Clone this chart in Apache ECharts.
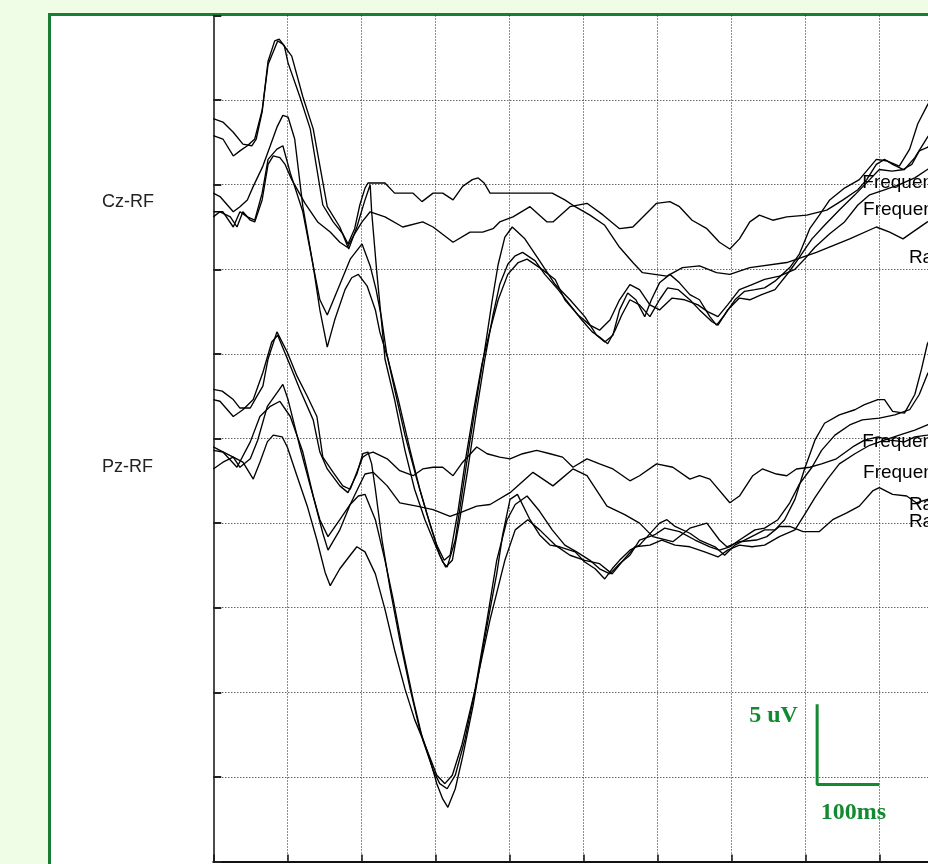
<!DOCTYPE html>
<html>
<head>
<meta charset="utf-8">
<script src="https://cdn.jsdelivr.net/npm/echarts@6/dist/echarts.min.js"></script>
<style>
  html, body { margin: 0; padding: 0; width: 928px; height: 864px; overflow: hidden; background: #effde7; }
  #panel { position: absolute; left: 48px; top: 13px; width: 1000px; height: 900px; border: 3px solid #1a7d36; background: #fff; }
  #main { position: absolute; left: 0; top: 0; width: 1000px; height: 864px; }
</style>
</head>
<body>
<div id="panel"></div>
<div id="main"></div>
<script>
// time in ms, amplitude in uV (both channels drawn on one shared axis)
const czTrace1 = [[-100,18.9],[-87,18.7],[-73,18.1],[-60,17.4],[-48,17.3],[-42,17.7],[-34,19.3],[-26,22.3],[-17,23.5],[-11,23.6],[-4,23.2],[1,22.2],[17,20.2],[31,18.3],[48,13.8],[62,12.8],[75,12.1],[82,11.5],[91,12.4],[98,13.8],[105,14.8],[109,15.1],[132,15.1],[145,14.5],[170,14.5],[182,14.0],[197,14.5],[210,14.5],[224,14.1],[237,14.9],[250,15.3],[258,15.4],[266,15.1],[274,14.5],[358,14.5],[375,14.1],[389,13.7],[409,13.2],[429,12.6],[449,11.3],[467,10.4],[480,9.8],[513,9.6],[534,10.1],[557,10.2],[580,9.8],[598,9.7],[625,10.1],[675,10.4],[715,11.0],[760,11.8],[796,12.5],[814,12.2],[832,11.8],[845,12.2],[865,12.8],[895,13.2]];
const czTrace2 = [[-100,17.9],[-87,17.7],[-73,16.7],[-64,17.0],[-54,17.3],[-44,17.7],[-34,19.4],[-26,22.1],[-13,23.5],[-6,23.3],[6,22.6],[21,20.2],[35,18.3],[54,13.7],[71,12.5],[83,11.2],[94,12.5],[105,14.1],[112,15.0],[114,13.4],[121,9.8],[128,6.6],[132,4.7],[145,2.3],[159,-0.7],[172,-3.0],[186,-4.8],[200,-6.3],[210,-7.3],[216,-7.6],[227,-6.0],[237,-3.0],[247,-0.1],[258,2.9],[267,5.3],[277,8.2],[285,10.3],[294,11.9],[304,12.5],[321,11.8],[341,10.5],[362,9.1],[382,8.2],[402,7.2],[418,6.1],[429,5.7],[440,6.1],[449,7.6],[460,8.6],[471,8.2],[483,7.2],[492,8.2],[503,9.2],[517,9.7],[530,9.2],[544,8.5],[557,8.2],[571,7.2],[580,6.7],[591,7.3],[605,8.2],[618,8.7],[632,8.8],[645,8.9],[659,9.3],[679,10.1],[692,10.9],[706,12.4],[719,13.2],[733,14.1],[753,14.8],[773,15.3],[796,16.5],[811,16.4],[827,16.1],[841,17.1],[852,18.6],[865,19.7],[882,20.9]];
const czTrace3 = [[-100,14.5],[-91,14.3],[-73,13.4],[-64,13.7],[-54,14.1],[-46,14.9],[-33,16.1],[-23,17.3],[-14,18.4],[-6,19.1],[1,19.0],[10,17.7],[21,13.7],[35,10.2],[44,7.6],[54,5.4],[64,7.0],[78,8.8],[87,9.5],[96,9.7],[108,9.0],[119,7.6],[125,6.3],[136,4.7],[150,2.3],[166,-0.7],[179,-3.0],[193,-5.1],[206,-6.9],[214,-7.6],[223,-7.2],[233,-4.8],[244,-1.8],[256,1.7],[267,4.7],[278,7.3],[287,9.1],[298,10.3],[308,10.8],[318,11.0],[335,10.5],[348,9.7],[366,8.8],[382,7.9],[398,7.0],[412,6.3],[422,6.0],[433,5.6],[443,6.4],[452,7.3],[463,8.2],[476,7.9],[490,7.2],[503,8.2],[514,8.9],[528,8.8],[544,8.2],[557,7.6],[574,6.9],[582,6.7],[595,7.6],[611,8.3],[625,8.2],[641,8.5],[659,8.8],[679,9.9],[692,10.7],[709,11.8],[726,12.6],[746,13.5],[767,14.4],[787,15.3],[800,15.9],[817,15.8],[834,15.9],[848,16.6],[865,17.8],[882,18.9]];
const czTrace4 = [[-100,13.4],[-87,13.4],[-73,12.5],[-64,13.4],[-54,13.1],[-44,12.9],[-34,14.5],[-26,16.5],[-14,17.1],[-6,17.3],[4,15.7],[21,13.4],[35,10.2],[44,8.2],[54,7.3],[71,9.1],[85,10.6],[101,11.5],[112,10.2],[120,8.8],[127,7.2],[134,5.1],[145,2.9],[159,0.2],[175,-2.4],[189,-4.5],[202,-6.3],[212,-7.2],[220,-6.9],[231,-4.2],[241,-1.2],[252,1.7],[263,4.4],[274,6.4],[285,8.2],[298,9.7],[312,10.4],[324,10.6],[341,10.1],[362,9.4],[375,8.2],[393,7.3],[409,6.7],[422,6.4],[436,7.0],[449,8.2],[463,9.1],[476,8.8],[490,7.9],[503,7.6],[520,8.3],[537,8.2],[555,7.9],[568,7.5],[582,7.2],[595,7.9],[611,8.8],[628,9.1],[645,9.4],[665,9.6],[686,10.0],[699,10.6],[713,11.3],[733,12.1],[753,12.8],[771,13.8],[787,14.4],[807,14.7],[827,15.0],[848,15.4],[865,15.9],[882,16.4]];
const czTrace5 = [[-100,13.1],[-91,13.4],[-77,13.1],[-68,12.5],[-60,13.4],[-50,12.9],[-44,12.8],[-34,14.1],[-26,16.2],[-19,16.7],[-10,16.6],[-3,16.2],[6,15.3],[24,13.9],[41,12.8],[58,12.2],[71,11.6],[81,11.3],[91,12.1],[101,12.8],[112,13.4],[132,13.1],[156,12.5],[183,12.8],[197,12.5],[224,11.6],[247,12.2],[264,12.2],[278,12.4],[287,12.8],[305,13.1],[328,13.7],[351,12.8],[359,12.8],[382,13.7],[405,13.9],[427,13.2],[449,12.4],[467,12.5],[490,13.5],[499,13.9],[517,14.0],[530,13.7],[547,12.9],[567,12.4],[584,11.6],[598,11.2],[611,11.8],[625,12.8],[638,13.2],[656,12.9],[675,13.1],[702,13.2],[729,13.5],[751,14.1],[771,14.7],[783,15.3],[796,16.2],[807,16.5],[818,16.2],[832,15.9],[844,16.2],[854,17.0],[865,17.2],[882,18.0]];

const pzTrace1 = [[-100,2.9],[-88,2.8],[-73,2.3],[-64,1.8],[-50,1.8],[-41,2.5],[-33,3.1],[-26,4.7],[-14,6.3],[0,5.1],[13,3.7],[27,2.5],[40,1.3],[48,-1.1],[62,-2.0],[75,-2.8],[85,-3.0],[94,-2.0],[102,-1.1],[109,-0.9],[116,-0.8],[135,-1.2],[152,-1.9],[170,-2.2],[183,-1.8],[197,-1.7],[210,-1.7],[224,-2.2],[237,-1.4],[256,-0.5],[270,-0.9],[287,-1.1],[301,-1.2],[318,-0.9],[337,-0.7],[355,-0.9],[372,-1.1],[386,-1.7],[405,-1.2],[422,-1.5],[440,-1.8],[463,-2.5],[476,-2.2],[499,-1.5],[521,-1.7],[544,-2.4],[557,-2.2],[571,-2.4],[598,-3.8],[611,-3.4],[629,-2.2],[642,-1.8],[661,-2.1],[675,-2.2],[688,-1.8],[706,-1.7],[722,-1.5],[742,-1.2],[764,-0.5],[780,-0.1],[798,0.1],[814,-0.1],[834,-0.2],[848,0.1],[865,0.2],[882,0.4]];
const pzTrace2 = [[-100,2.3],[-91,2.2],[-73,1.3],[-60,1.7],[-46,2.3],[-33,3.9],[-21,5.7],[-13,6.1],[4,4.3],[17,2.9],[35,1.1],[44,-0.8],[54,-1.8],[71,-2.8],[82,-3.2],[94,-2.1],[102,-0.9],[109,-0.8],[114,-1.5],[119,-3.0],[128,-6.0],[139,-8.9],[152,-11.9],[166,-14.8],[179,-17.2],[193,-19.0],[202,-20.4],[210,-21.3],[217,-21.8],[227,-20.7],[237,-18.8],[251,-15.8],[264,-12.5],[274,-10.1],[283,-8.0],[291,-5.7],[301,-3.6],[311,-3.3],[328,-4.8],[341,-5.7],[355,-6.3],[368,-6.4],[389,-6.7],[402,-7.3],[416,-7.7],[429,-8.3],[439,-7.7],[449,-7.2],[463,-6.6],[476,-6.3],[503,-5.0],[513,-4.8],[524,-5.2],[544,-5.6],[557,-6.0],[578,-6.4],[591,-6.9],[605,-6.3],[618,-6.0],[632,-5.7],[645,-5.4],[659,-5.4],[672,-4.8],[686,-3.6],[699,-1.8],[713,-0.1],[726,0.9],[746,1.4],[767,1.7],[780,2.0],[798,2.3],[807,2.3],[818,1.6],[834,1.5],[848,2.6],[857,4.1],[865,5.6],[882,7.0]];
const pzTrace3 = [[-100,-0.5],[-91,-0.7],[-73,-1.1],[-64,-1.7],[-50,-1.2],[-40,-0.1],[-27,1.9],[-14,2.7],[-6,3.2],[1,2.3],[17,-0.5],[31,-2.8],[44,-4.8],[55,-5.8],[71,-4.8],[85,-3.9],[96,-3.4],[105,-3.3],[119,-4.8],[132,-7.2],[143,-9.5],[156,-12.5],[170,-15.4],[183,-17.8],[197,-19.6],[206,-20.4],[216,-20.7],[227,-19.9],[240,-17.8],[254,-14.8],[270,-10.7],[283,-7.2],[297,-4.8],[308,-3.9],[324,-3.4],[341,-4.3],[358,-5.4],[375,-6.3],[391,-6.7],[409,-7.2],[422,-7.7],[436,-8.0],[449,-7.4],[463,-6.9],[476,-6.0],[496,-5.7],[510,-5.3],[530,-5.5],[551,-6.0],[571,-6.4],[584,-6.6],[598,-6.4],[611,-6.0],[632,-5.4],[645,-5.3],[663,-4.8],[679,-3.8],[692,-2.7],[709,-1.7],[722,-0.7],[740,0.2],[760,0.8],[777,1.1],[800,1.2],[821,1.4],[841,1.7],[854,2.6],[865,3.8],[882,5.0]];
const pzTrace4 = [[-100,-0.7],[-87,-0.8],[-68,-1.7],[-50,-0.2],[-37,1.3],[-23,1.9],[-10,2.2],[4,1.3],[21,-0.8],[35,-3.4],[48,-5.6],[55,-6.6],[71,-5.4],[85,-3.9],[96,-2.9],[105,-2.1],[116,-2.0],[135,-2.8],[152,-3.8],[175,-4.0],[197,-4.2],[220,-4.6],[233,-4.4],[256,-4.0],[274,-3.9],[301,-3.2],[332,-2.0],[359,-2.8],[386,-1.8],[405,-2.2],[432,-4.0],[456,-4.5],[476,-5.0],[494,-5.8],[521,-6.1],[544,-5.3],[567,-5.0],[584,-6.0],[594,-6.4],[611,-6.1],[634,-6.0],[648,-5.8],[665,-5.2],[679,-5.2],[697,-5.5],[719,-5.5],[737,-4.8],[756,-4.4],[773,-4.0],[791,-3.1],[800,-2.9],[818,-3.3],[837,-3.4],[850,-3.8],[865,-3.6],[882,-3.5]];
const pzTrace5 = [[-100,-1.8],[-87,-1.4],[-73,-1.1],[-60,-1.4],[-46,-2.4],[-37,-1.4],[-27,-0.2],[-19,0.2],[-7,0.1],[0,-0.5],[13,-2.2],[27,-4.0],[40,-6.0],[51,-7.9],[58,-8.7],[71,-7.7],[85,-6.9],[94,-6.4],[105,-6.7],[119,-8.0],[132,-10.1],[145,-12.5],[159,-14.8],[172,-16.6],[186,-18.1],[202,-19.9],[213,-20.4],[223,-19.9],[236,-18.1],[254,-14.8],[274,-10.7],[294,-7.2],[308,-5.4],[325,-4.8],[341,-5.4],[362,-6.3],[382,-6.9],[402,-7.2],[422,-7.4],[439,-8.0],[452,-7.3],[470,-6.4],[490,-6.3],[506,-6.0],[524,-6.3],[544,-6.4],[564,-6.7],[582,-7.0],[595,-6.6],[611,-6.3],[628,-6.4],[645,-6.3],[665,-5.8],[686,-5.4],[699,-4.5],[713,-3.5],[730,-2.4],[746,-1.5],[767,-0.9],[787,-0.4],[807,-0.1],[827,0.2],[848,0.5],[865,0.8],[882,1.1]];

// condition labels written next to the traces
const labelNames = ['Frequent', 'Frequent', 'Rare', 'Frequent', 'Frequent', 'Rare', 'Rare'];
const labelMs = [777, 778, 840, 777, 778, 840, 840];
const labelUv = [15.1, 13.5, 10.7, -0.2, -2.0, -3.9, -4.9];

// channel names
const channelNames = ['Cz-RF', 'Pz-RF'];

// calibration bar: 5 uV / 100 ms
const scaleBar = [[716, -15.7], [716, -20.45], [800, -20.45]];
const scaleTexts = ['5 uV', '100ms'];

const traces = [czTrace1, czTrace2, czTrace3, czTrace4, czTrace5,
  pzTrace1, pzTrace2, pzTrace3, pzTrace4, pzTrace5];

var myChart = echarts.init(document.getElementById('main'));

const dotted = { color: '#1e1e1e', width: 1, type: [1, 2] };
const green = '#138a32';

var series = traces.map(function (d, i) {
  return {
    name: 'trace' + (i + 1),
    type: 'line',
    data: d,
    symbol: 'none',
    lineStyle: { color: '#000', width: 1.35 },
    z: 3
  };
});

series.push({
  name: 'labels',
  type: 'scatter',
  symbolSize: 0,
  itemStyle: { opacity: 1 },
  data: labelNames.map(function (n, i) { return { name: n, value: [labelMs[i], labelUv[i]] }; }),
  label: {
    show: true,
    position: 'right',
    distance: 0,
    formatter: '{b}',
    color: '#000',
    fontFamily: 'Liberation Sans, Arial, sans-serif',
    fontSize: 19
  },
  clip: false,
  z: 4
});

series.push({
  name: 'scale',
  type: 'line',
  data: scaleBar,
  symbol: 'none',
  lineStyle: { color: green, width: 3 },
  clip: false,
  z: 5
});

series.push({
  name: 'scaleText',
  type: 'scatter',
  symbolSize: 0,
  itemStyle: { opacity: 1 },
  data: [
    { name: scaleTexts[0], value: [scaleBar[0][0] - 26, -16.4], label: { position: 'left' } },
    { name: scaleTexts[1], value: [scaleBar[1][0] + 5, -22.1], label: { position: 'right' } }
  ],
  label: {
    show: true,
    distance: 0,
    formatter: '{b}',
    color: green,
    fontFamily: 'Liberation Serif, Times New Roman, serif',
    fontWeight: 'bold',
    fontSize: 24
  },
  clip: false,
  z: 5
});

var option = {
  animation: false,
  backgroundColor: 'transparent',
  grid: { left: 213.3, top: 15.5, width: 740, height: 846 },
  graphic: channelNames.map(function (n, i) {
    return {
      type: 'text',
      left: 102,
      top: i === 0 ? 193 : 458,
      style: { text: n, fill: '#222', fontSize: 18, fontFamily: 'Liberation Sans, Arial, sans-serif' }
    };
  }),
  xAxis: {
    type: 'value',
    min: -100,
    max: 900,
    interval: 100,
    axisLine: { show: true, onZero: false, lineStyle: { color: '#111', width: 2 } },
    axisTick: { show: true, inside: true, length: 7, lineStyle: { color: '#111', width: 1.5 } },
    axisLabel: { show: false },
    splitLine: { show: true, showMinLine: false, showMaxLine: false, lineStyle: dotted }
  },
  yAxis: {
    type: 'value',
    min: -25,
    max: 25,
    interval: 5,
    axisLine: { show: true, onZero: false, lineStyle: { color: '#111', width: 1.5 } },
    axisTick: { show: true, inside: true, length: 8, lineStyle: { color: '#222', width: 2 } },
    axisLabel: { show: false },
    splitLine: { show: true, showMinLine: false, showMaxLine: false, lineStyle: dotted }
  },
  series: series
};

myChart.setOption(option);
</script>
</body>
</html>
